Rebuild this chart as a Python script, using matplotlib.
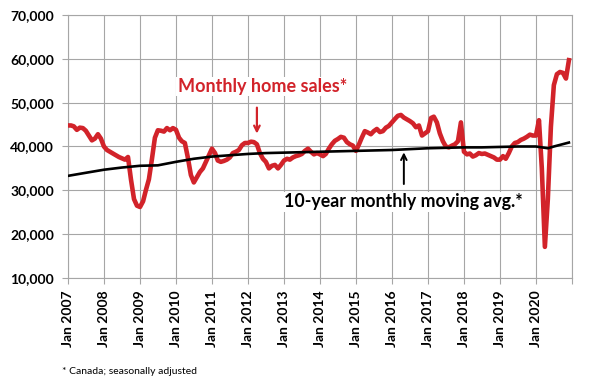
import numpy as np
import matplotlib.pyplot as plt
import pandas as pd

plt.rcParams['font.family'] = ['Lato', 'DejaVu Sans']

# Monthly home sales, Canada, seasonally adjusted (Jan 2007 - Dec 2020)
sales = [
    44800, 44800, 44600, 43800, 44300, 44200, 43600, 42500, 41400, 41800, 42800, 41800,  # 2007
    40000, 39200, 38800, 38400, 38000, 37600, 37300, 37000, 37600, 32500, 28000, 26500,  # 2008
    26200, 27500, 30000, 32500, 37000, 42000, 43700, 43600, 43400, 44200, 43700, 44200,  # 2009
    43800, 42000, 41200, 40800, 37500, 33500, 31800, 33000, 34200, 35000, 36500, 38000,  # 2010
    39500, 38500, 36800, 36500, 36700, 37000, 37500, 38500, 38800, 39200, 40300, 40800,  # 2011
    40800, 41100, 41000, 40500, 38500, 37200, 36500, 35000, 35600, 35800, 35000, 35800,  # 2012
    36800, 37200, 37000, 37500, 37800, 38000, 38300, 39000, 39500, 38800, 38200, 38500,  # 2013
    38200, 37800, 38300, 39500, 40500, 41300, 41700, 42200, 42000, 41000, 40500, 40200,  # 2014
    39000, 40500, 42000, 43500, 43200, 42800, 43500, 44000, 43300, 43500, 44300, 44700,  # 2015
    45500, 46300, 47000, 47200, 46600, 46200, 45800, 45300, 44400, 44800, 42500, 43000,  # 2016
    43500, 46500, 46800, 45500, 43000, 41200, 40000, 39800, 40200, 40500, 41200, 45500,  # 2017
    38800, 38200, 38400, 37700, 38000, 38500, 38300, 38400, 38100, 37800, 37500, 37000,  # 2018
    37000, 37800, 37200, 38500, 40000, 40800, 41000, 41500, 41800, 42200, 42700, 42500,  # 2019
    42500, 46000, 35000, 17100, 28000, 44500, 54000, 56500, 57000, 56800, 55500, 59700,  # 2020
]
months = pd.date_range('2007-01-01', periods=len(sales), freq='MS')

# 10-year monthly moving average (read at selected months)
ma_dates = pd.to_datetime([
    '2007-01', '2007-07', '2008-01', '2008-07', '2009-01', '2009-07', '2010-01', '2010-07',
    '2011-01', '2011-07', '2012-01', '2012-07', '2013-01', '2013-07', '2014-01', '2014-07',
    '2015-01', '2015-07', '2016-01', '2016-07', '2017-01', '2017-07', '2018-01', '2018-07',
    '2019-01', '2019-07', '2020-01', '2020-04', '2020-05', '2020-07', '2020-12'])
ma_values = [
    33300, 34000, 34700, 35200, 35600, 35700, 36500, 37200,
    37700, 38000, 38300, 38500, 38600, 38700, 38800, 38900,
    39000, 39100, 39200, 39400, 39600, 39700, 39800, 39800,
    39900, 40000, 40000, 39700, 39600, 40000, 40900]

years = list(range(2007, 2022))
tick_labels = ['Jan %d' % y for y in years[:-1]] + ['']

red = '#d2232a'
grid_col = '#a6a6a6'

fig = plt.figure(figsize=(6, 3.82), dpi=100)
ax = fig.add_axes([0.1133, 0.2723, 0.84, 0.6884])

ax.plot(months, sales, color=red, lw=3.3, solid_joinstyle='round', zorder=3)
ax.plot(ma_dates, ma_values, color='black', lw=1.9, zorder=4)

ax.set_xlim(pd.Timestamp('2007-01-01'), pd.Timestamp('2021-01-01'))
ax.set_ylim(10000, 70000)
ax.set_yticks(range(10000, 70001, 10000))
ax.set_yticklabels(['{:,}'.format(v) for v in range(10000, 70001, 10000)],
                   fontsize=10, fontweight='bold')
ax.set_xticks([pd.Timestamp('%d-01-01' % y) for y in years])
ax.set_xticklabels(tick_labels, rotation=90, fontsize=10, fontweight='bold')
ax.tick_params(axis='both', colors=grid_col, labelcolor='black', length=4, width=0.8)
ax.tick_params(axis='x', pad=5)
ax.tick_params(axis='y', pad=6)

ax.grid(True, color=grid_col, lw=0.8)
ax.set_axisbelow(True)
for s in ax.spines.values():
    s.set_color(grid_col)
    s.set_linewidth(0.8)

ax.text(pd.Timestamp('2010-01-20'), 53700, 'Monthly home sales*', color=red,
        fontsize=13, fontweight='bold', ha='left', va='center', zorder=5,
        bbox=dict(facecolor='white', edgecolor='none', pad=1))
ax.annotate('', xy=(pd.Timestamp('2012-04-01'), 42300), xytext=(pd.Timestamp('2012-04-01'), 49500),
            arrowprops=dict(arrowstyle='->', color=red, lw=1.6), zorder=5)

ax.text(pd.Timestamp('2013-01-01'), 27400, '10-year monthly moving avg.*', color='black',
        fontsize=12.8, fontweight='bold', ha='left', va='center', zorder=5,
        bbox=dict(facecolor='white', edgecolor='none', pad=1))
ax.annotate('', xy=(pd.Timestamp('2016-05-01'), 39300), xytext=(pd.Timestamp('2016-05-01'), 30800),
            arrowprops=dict(arrowstyle='->', color='black', lw=1.4), zorder=5)

fig.text(0.103, 0.028, '* Canada; seasonally adjusted', fontsize=7.5, ha='left', va='center')

fig.savefig('out.png', dpi=100)
